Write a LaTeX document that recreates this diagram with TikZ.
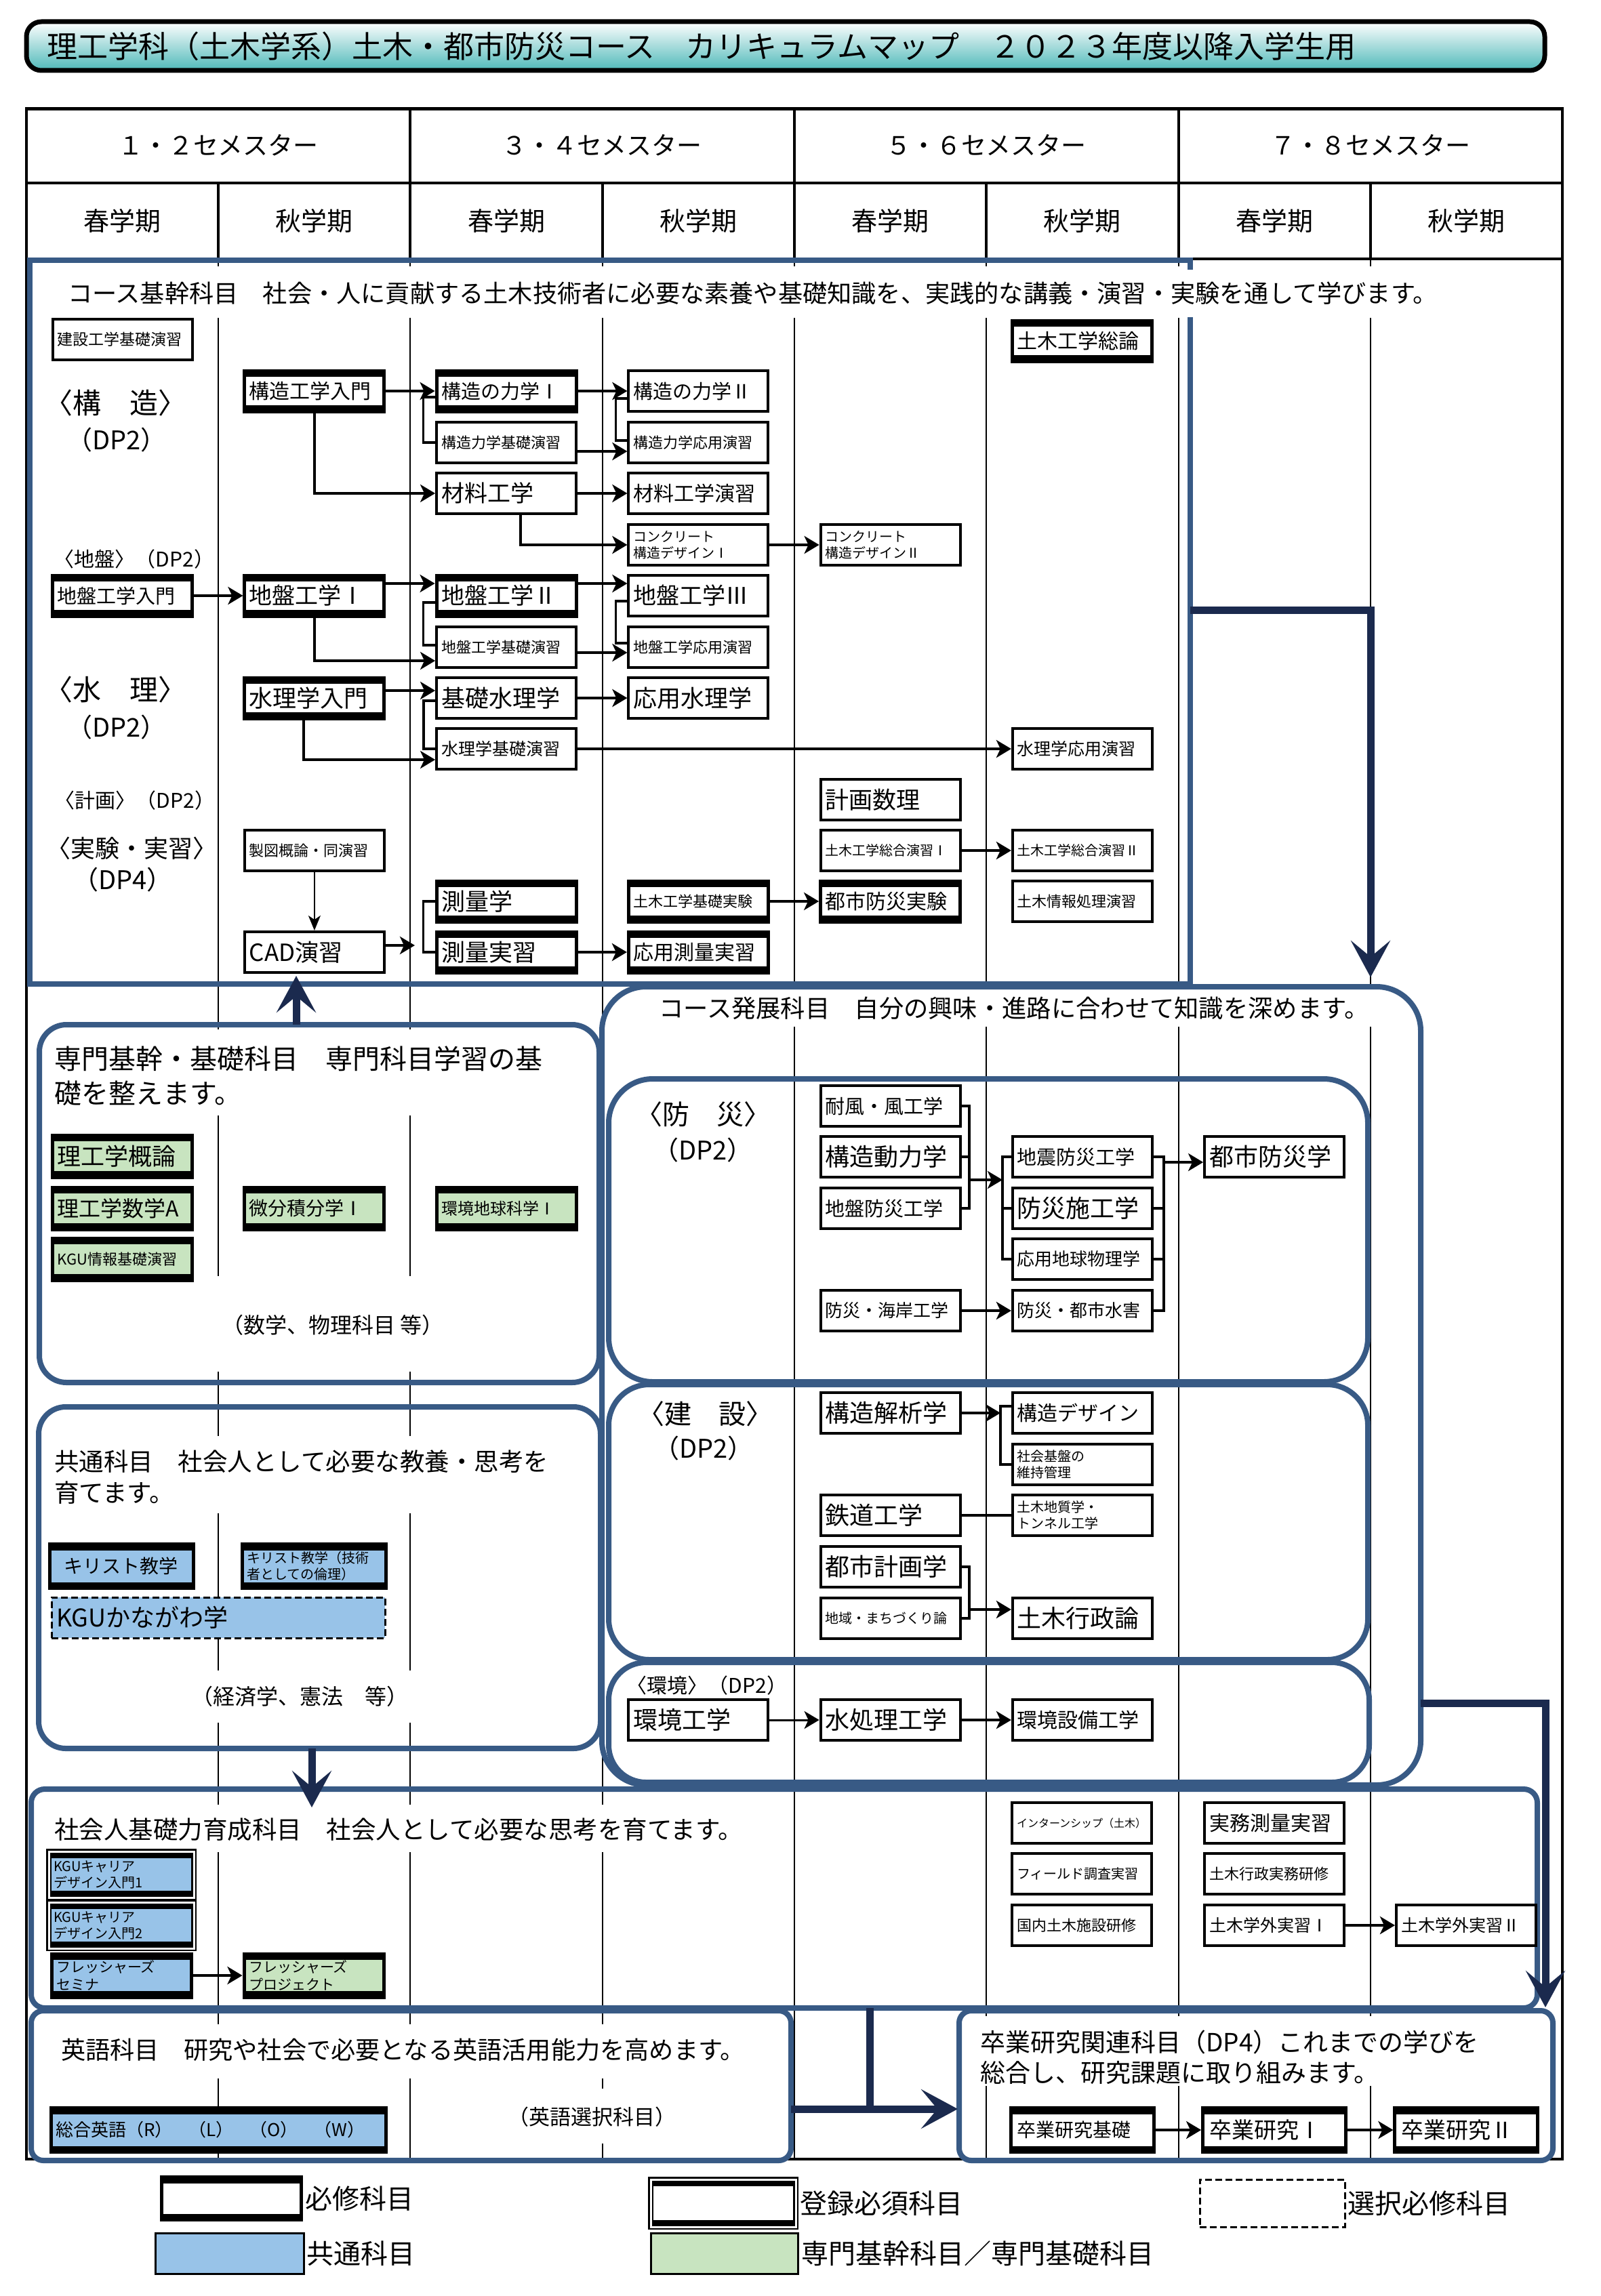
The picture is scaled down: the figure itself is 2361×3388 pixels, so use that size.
\documentclass[tikz,border=0pt]{standalone}
\usepackage{fontspec}
\setmainfont{Noto Sans CJK JP}
\usetikzlibrary{arrows.meta,calc}
\definecolor{secblue}{RGB}{56,90,133}
\definecolor{navyc}{RGB}{27,42,78}
\definecolor{kblue}{RGB}{152,195,232}
\definecolor{kgreen}{RGB}{200,228,192}
\definecolor{tealc}{RGB}{78,184,184}
\newcommand{\fsz}[1]{\fontsize{#1}{\dimexpr #1pt*6/5\relax}\selectfont}
\newcommand{\rmI}{\makebox[1em][c]{Ⅰ}}
\newcommand{\rmII}{\makebox[1em][c]{Ⅱ}}
\newcommand{\rmIII}{\makebox[1em][c]{Ⅲ}}
\begin{document}
\begin{tikzpicture}[x=1pt,y=-1pt,
  cb/.style={draw=black, line width=4pt, fill=white, minimum width=206pt, minimum height=60pt, text width=192pt, inner xsep=7pt, inner ysep=1pt, align=left},
  req/.style={cb, line width=5pt, path picture={
     \fill[black] (path picture bounding box.north west) rectangle ([yshift=-9pt]path picture bounding box.north east);
     \fill[black] ([yshift=9pt]path picture bounding box.south west) rectangle (path picture bounding box.south east);}},
  reg/.style={cb, line width=2.5pt, double=white, double distance=3pt, path picture={
     \fill[black] (path picture bounding box.north west) rectangle ([yshift=-10pt]path picture bounding box.north east);
     \fill[black] ([yshift=10pt]path picture bounding box.south west) rectangle (path picture bounding box.south east);}},
  opt/.style={cb, line width=3pt, dash pattern=on 10pt off 5pt},
  lab/.style={inner sep=0pt},
  coll/.style={line width=2.5pt, black},
  grid/.style={line width=3.5pt, black},
  secf/.style={draw=secblue, line width=8pt},
  arr/.style={line width=4.5pt, -{Stealth[length=22pt,width=26pt,inset=6pt]}},
  thinarr/.style={line width=2pt, -{Stealth[length=22pt,width=18pt,inset=6pt]}},
  brk/.style={line width=3.5pt},
  navyarr/.style={draw=navyc, line width=11pt, line join=miter, -{Stealth[length=54pt,width=58pt,inset=24pt]}},
  navyline/.style={draw=navyc, line width=11pt}
]
\useasboundingbox (0,0) rectangle (2361,3388);
\fill[white] (0,0) rectangle (2361,3388);

% ---------- column lines ----------
\foreach \x in {322,605} {
  \foreach \a/\b in {382/393,469/1519,1646/1883,2024/2119,2233/2465,2542/2663,2733/2987,3067/3186}
    {\draw[coll] (\x,\a) -- (\x,\b);}}
\foreach \a/\b in {382/393,469/2663,2733/2987,3067/3082,3163/3186}
    {\draw[coll] (889,\a) -- (889,\b);}
\foreach \a/\b in {382/393,469/1456,1515/3186}
    {\draw[coll] (1172,\a) -- (1172,\b);}
\foreach \x in {1455,1739,2022} {
  \foreach \a/\b in {382/393,469/1456,1515/2975,3078/3186}
    {\draw[coll] (\x,\a) -- (\x,\b);}}

% ---------- table grid ----------
\draw[grid] (39,160) rectangle (2305,3186);
\draw[line width=5pt] (39,160) -- (2305,160);
\draw[grid] (39,270) -- (2305,270);
\draw[grid] (39,382) -- (2305,382);
\foreach \x in {605,1172,1739} {\draw[grid] (\x,160) -- (\x,382);}
\foreach \x in {322,889,1455,2022} {\draw[grid] (\x,270) -- (\x,382);}

\node[lab, font=\fsz{37}] (h12) at (322,214) {１・２セメスター};
\node[lab, font=\fsz{37}] (h34) at (888,214) {３・４セメスター};
\node[lab, font=\fsz{37}] (h56) at (1455,214) {５・６セメスター};
\node[lab, font=\fsz{37}] (h78) at (2022,214) {７・８セメスター};
\node[lab, font=\fsz{38}] (s1) at (180.6,326) {春学期};
\node[lab, font=\fsz{38}] (s2) at (463.9,326) {秋学期};
\node[lab, font=\fsz{38}] (s3) at (747.1,326) {春学期};
\node[lab, font=\fsz{38}] (s4) at (1030.4,326) {秋学期};
\node[lab, font=\fsz{38}] (s5) at (1313.6,326) {春学期};
\node[lab, font=\fsz{38}] (s6) at (1596.9,326) {秋学期};
\node[lab, font=\fsz{38}] (s7) at (1880.1,326) {春学期};
\node[lab, font=\fsz{38}] (s8) at (2163.4,326) {秋学期};

% ---------- section frames ----------
\draw[secf] (44,384) rectangle (1756,1452);
\draw[secf, rounded corners=40pt] (58,1512) rectangle (884,2040);
\draw[secf, rounded corners=40pt] (57,2076) rectangle (886,2580);
\draw[secf, rounded corners=20pt] (46,2640) rectangle (2268,2963);
\draw[secf, rounded corners=18pt] (46,2967) rectangle (1167,3188);
\draw[secf, rounded corners=18pt] (1415,2967) rectangle (2291,3188);
\draw[secf, rounded corners=65pt] (888,1456) rectangle (2096,2634);
\draw[secf, rounded corners=65pt] (898,1592) rectangle (2018,2039);
\draw[secf, rounded corners=60pt] (898,2043) rectangle (2018,2449);
\draw[secf, rounded corners=55pt] (898,2453) rectangle (2020,2630);

% ---------- section 1 : course base ----------
\node[lab, anchor=west, fill=white, inner ysep=18pt, font=\fsz{36.2}] (t_kikan) at (100,433) {コース基幹科目　社会・人に貢献する土木技術者に必要な素養や基礎知識を、実践的な講義・演習・実験を通して学びます。};
\node[lab, font=\fsz{42}] (l_kozo) at (170,595) {〈構　造〉};
\node[lab, font=\fsz{38}] (l_kozodp) at (172,649) {（DP2）};
\node[lab, font=\fsz{30}] (l_jiban) at (198,825) {〈地盤〉（DP2）};
\node[lab, font=\fsz{42}] (l_sui) at (170,1018) {〈水　理〉};
\node[lab, font=\fsz{38}] (l_suidp) at (172,1073) {（DP2）};
\node[lab, font=\fsz{30}] (l_keikaku) at (199,1181) {〈計画〉（DP2）};
\node[lab, font=\fsz{36}] (l_jikken) at (194,1252) {〈実験・実習〉};
\node[lab, font=\fsz{38}] (l_jikkendp) at (181,1298) {（DP4）};

\node[cb, font=\fsz{23}] (kenkiso) at (180.6,501) {建設工学基礎演習};
\node[req, font=\fsz{30}] (sogoron) at (1596.9,503) {土木工学総論};
\node[req, font=\fsz{30}] (kozonyu) at (463.9,577) {構造工学入門};
\node[req, font=\fsz{29}] (rik1) at (747.1,577) {構造の力学\rmI};
\node[cb, font=\fsz{29}] (rik2) at (1030.4,577) {構造の力学\rmII};
\node[cb, font=\fsz{22}] (rikkiso) at (747.1,653) {構造力学基礎演習};
\node[cb, font=\fsz{22}] (rikoyo) at (1030.4,653) {構造力学応用演習};
\node[cb, font=\fsz{34}] (zairyo) at (747.1,728) {材料工学};
\node[cb, font=\fsz{30}] (zairyoen) at (1030.4,728) {材料工学演習};
\node[cb, font=\fsz{20}] (con1) at (1030.4,804) {コンクリート\\構造デザイン\rmI};
\node[cb, font=\fsz{20}] (con2) at (1313.6,804) {コンクリート\\構造デザイン\rmII};
\node[req, font=\fsz{29}] (jibnyu) at (180.6,879) {地盤工学入門};
\node[req, font=\fsz{34}] (jib1) at (463.9,879) {地盤工学\rmI};
\node[req, font=\fsz{34}] (jib2) at (747.1,879) {地盤工学\rmII};
\node[cb, font=\fsz{34}] (jib3) at (1030.4,879) {地盤工学\rmIII};
\node[cb, font=\fsz{22}] (jibkiso) at (747.1,955) {地盤工学基礎演習};
\node[cb, font=\fsz{22}] (jiboyo) at (1030.4,955) {地盤工学応用演習};
\node[req, font=\fsz{35}] (suinyu) at (463.9,1030) {水理学入門};
\node[cb, font=\fsz{35}] (kisosui) at (747.1,1030) {基礎水理学};
\node[cb, font=\fsz{35}] (oyosui) at (1030.4,1030) {応用水理学};
\node[cb, font=\fsz{25}] (suikiso) at (747.1,1105) {水理学基礎演習};
\node[cb, font=\fsz{25}] (suioyo) at (1596.9,1105) {水理学応用演習};
\node[cb, font=\fsz{35}] (keikaku) at (1313.6,1180) {計画数理};
\node[cb, font=\fsz{22}] (seizu) at (463.9,1255) {製図概論・同演習};
\node[cb, font=\fsz{20}] (sogo1) at (1313.6,1255) {土木工学総合演習\rmI};
\node[cb, font=\fsz{20}] (sogo2) at (1596.9,1255) {土木工学総合演習\rmII};
\node[req, font=\fsz{35}] (sokuryo) at (747.1,1330) {測量学};
\node[req, font=\fsz{22}] (kisojik) at (1030.4,1330) {土木工学基礎実験};
\node[req, font=\fsz{30}] (toshijik) at (1313.6,1330) {都市防災実験};
\node[cb, font=\fsz{22}] (joho) at (1596.9,1330) {土木情報処理演習};
\node[cb, font=\fsz{35}] (cad) at (463.9,1405) {CAD演習};
\node[req, font=\fsz{35}] (sokujis) at (747.1,1405) {測量実習};
\node[req, font=\fsz{30}] (oyosoku) at (1030.4,1405) {応用測量実習};

\draw[arr] (kozonyu.east) -- (rik1.west);
\draw[arr] (rik1.east) -- (rik2.west);
\draw[brk] ($(rik1.west)+(0,9)$) -- ++(-17,0) |- (rikkiso.west);
\draw[brk] ($(rik2.west)+(0,11)$) -- ++(-17,0) |- ($(rikoyo.west)+(0,-3)$);
\draw[arr] ($(rikkiso.east)+(0,13)$) -- ($(rikoyo.west)+(0,13)$);
\draw[arr] (kozonyu.south) |- (zairyo.west);
\draw[arr] (zairyo.east) -- (zairyoen.west);
\draw[arr] ($(zairyo.south)+(21,0)$) |- (con1.west);
\draw[arr] (con1.east) -- (con2.west);
\draw[arr] (jibnyu.east) -- (jib1.west);
\draw[arr] ($(jib1.east)+(0,-18)$) -- ($(jib2.west)+(0,-18)$);
\draw[arr] ($(jib2.east)+(0,-18)$) -- ($(jib3.west)+(0,-18)$);
\draw[brk] ($(jib2.west)+(0,10)$) -- ++(-17,0) |- ($(jibkiso.west)+(0,-3)$);
\draw[brk] ($(jib3.west)+(0,8)$) -- ++(-17,0) |- ($(jiboyo.west)+(0,-6)$);
\draw[arr] ($(jibkiso.east)+(0,8)$) -- ($(jiboyo.west)+(0,8)$);
\draw[arr] (jib1.south) |- ($(jibkiso.west)+(0,20)$);
\draw[arr] ($(suinyu.east)+(0,-11)$) -- ($(kisosui.west)+(0,-11)$);
\draw[arr] (kisosui.east) -- (oyosui.west);
\draw[brk] ($(kisosui.west)+(0,4)$) -- ++(-17,0) |- (suikiso.west);
\draw[arr] ($(suinyu.south)+(-16,0)$) |- ($(suikiso.west)+(0,16)$);
\draw[arr] (suikiso.east) -- (suioyo.west);
\draw[arr] (sogo1.east) -- (sogo2.west);
\draw[arr] (kisojik.east) -- (toshijik.west);
\draw[arr] (sokujis.east) -- (oyosoku.west);
\draw[thinarr] (seizu.south) -- (cad.north);
\draw[brk] (sokuryo.west) -- ++(-17,0) |- (sokujis.west);
\coordinate (cadtip) at (612,1395);
\draw[arr] (cad.east |- cadtip) -- (cadtip);

% ---------- senmon kikan / kiso ----------
\node[lab, anchor=west, font=\fsz{40}] (t_senmon1) at (80,1562) {専門基幹・基礎科目　専門科目学習の基};
\node[lab, anchor=west, font=\fsz{40}] (t_senmon2) at (80,1613) {礎を整えます。};
\node[req, fill=kgreen, font=\fsz{35}, minimum height=62pt] (rikogai) at (180.6,1706) {理工学概論};
\node[req, fill=kgreen, font=\fsz{32}, minimum height=62pt] (rikosu) at (180.6,1783) {理工学数学A};
\node[req, fill=kgreen, font=\fsz{22}, minimum height=62pt] (kguinfo) at (180.6,1858) {KGU情報基礎演習};
\node[req, fill=kgreen, font=\fsz{28}, minimum height=62pt] (bibun) at (463.9,1783) {微分積分学\rmI};
\node[req, fill=kgreen, font=\fsz{24}, minimum height=62pt] (kankyochi) at (747.1,1783) {環境地球科学\rmI};
\node[lab, font=\fsz{32}] (t_sugaku) at (491,1955) {（数学、物理科目 等）};

% ---------- kyotsu ----------
\node[lab, anchor=west, font=\fsz{36.5}] (t_kyotsu1) at (80,2157) {共通科目　社会人として必要な教養・思考を};
\node[lab, anchor=west, font=\fsz{36.5}] (t_kyotsu2) at (80,2203) {育てます。};
\node[req, fill=kblue, font=\fsz{28}, minimum width=212pt, text width=198pt, minimum height=65pt] (kirisuto) at (179,2311) {\hspace*{14pt}キリスト教学};
\node[req, fill=kblue, font=\fsz{20}, minimum width=212pt, text width=198pt, minimum height=65pt] (kirisuto2) at (463,2311) {キリスト教学（技術\\者としての倫理）};
\node[opt, fill=kblue, font=\fsz{36}, minimum width=492pt, text width=478pt] (kanagawa) at (322,2387) {KGUかながわ学};
\node[lab, font=\fsz{32}] (t_keizai) at (442,2503) {（経済学、憲法　等）};

% ---------- shakaijin ----------
\node[lab, anchor=west, font=\fsz{36.5}] (t_shakai) at (80,2700) {社会人基礎力育成科目　社会人として必要な思考を育てます。};
\node[reg, fill=kblue, font=\fsz{20}, minimum width=214pt, text width=200pt, minimum height=68pt] (career1) at (179,2766) {KGUキャリア\\デザイン入門1};
\node[reg, fill=kblue, font=\fsz{20}, minimum width=214pt, text width=200pt, minimum height=68pt] (career2) at (179,2841) {KGUキャリア\\デザイン入門2};
\node[req, fill=kblue, font=\fsz{21}, minimum height=64pt] (fresh1) at (179,2915) {フレッシャーズ\\セミナ};
\node[req, fill=kgreen, font=\fsz{21}, minimum height=64pt] (fresh2) at (463,2915) {フレッシャーズ\\プロジェクト};
\draw[arr] (fresh1.east) -- (fresh2.west);
\node[cb, font=\fsz{16}] (intern) at (1596,2690) {インターンシップ（土木）};
\node[cb, font=\fsz{20}] (field) at (1596,2765) {フィールド調査実習};
\node[cb, font=\fsz{22}] (kokunai) at (1596,2841) {国内土木施設研修};
\node[cb, font=\fsz{30}] (jitsumu) at (1880,2690) {実務測量実習};
\node[cb, font=\fsz{22}] (gyojitsu) at (1880,2765) {土木行政実務研修};
\node[cb, font=\fsz{25}] (gakugai1) at (1880,2841) {土木学外実習\rmI};
\node[cb, font=\fsz{25}] (gakugai2) at (2163,2841) {土木学外実習\rmII};
\draw[arr] (gakugai1.east) -- (gakugai2.west);

% ---------- english ----------
\node[lab, anchor=west, font=\fsz{36.2}] (t_eigo) at (90,3025) {英語科目　研究や社会で必要となる英語活用能力を高めます。};
\node[req, fill=kblue, font=\fsz{26}, minimum width=494pt, text width=480pt, minimum height=65pt] (sogoeigo) at (322,3143) {総合英語（R）\hspace{24pt}（L）\hspace{24pt}（O）\hspace{24pt}（W）};
\node[lab, font=\fsz{31}] (t_eigosen) at (873,3124) {（英語選択科目）};

% ---------- sotsugyo kenkyu ----------
\node[lab, anchor=west, font=\fsz{37}] (t_sotsu1) at (1446,3013) {卒業研究関連科目（DP4）これまでの学びを};
\node[lab, anchor=west, font=\fsz{37}] (t_sotsu2) at (1446,3058) {総合し、研究課題に取り組みます。};
\node[req, font=\fsz{28}, minimum width=211pt, minimum height=65pt] (sotsukiso) at (1596.9,3143) {卒業研究基礎};
\node[req, font=\fsz{33}, minimum width=211pt, minimum height=65pt] (sotsu1) at (1880.1,3143) {卒業研究\rmI};
\node[req, font=\fsz{33}, minimum width=211pt, minimum height=65pt] (sotsu2) at (2163.4,3143) {卒業研究\rmII};
\draw[arr] (sotsukiso.east) -- (sotsu1.west);
\draw[arr] (sotsu1.east) -- (sotsu2.west);

% ---------- course development ----------
\node[lab, anchor=west, font=\fsz{36.3}] (t_hatten) at (972,1488) {コース発展科目　自分の興味・進路に合わせて知識を深めます。};
\node[lab, font=\fsz{40}] (l_bosai) at (1037,1644) {〈防　災〉};
\node[lab, font=\fsz{38}] (l_bosaidp) at (1037,1697) {（DP2）};
\node[cb, font=\fsz{29}] (taifu) at (1313.6,1632) {耐風・風工学};
\node[cb, font=\fsz{36}] (kozodo) at (1313.6,1707) {構造動力学};
\node[cb, font=\fsz{29}] (jibanbo) at (1313.6,1783) {地盤防災工学};
\node[cb, font=\fsz{26}] (kaigan) at (1313.6,1934) {防災・海岸工学};
\node[cb, font=\fsz{29}] (jishin) at (1596.9,1707) {地震防災工学};
\node[cb, font=\fsz{36}] (bosaiseko) at (1596.9,1783) {防災施工学};
\node[cb, font=\fsz{26}] (oyochikyu) at (1596.9,1858) {応用地球物理学};
\node[cb, font=\fsz{26}] (suigai) at (1596.9,1934) {防災・都市水害};
\node[cb, font=\fsz{36}] (toshibosai) at (1880.1,1707) {都市防災学};

\coordinate (bj1) at (1430,1741);
\coordinate (bj2) at (1479,1741);
\draw[brk] (taifu.east) -- (taifu.east -| bj1) -- (jibanbo.east -| bj1) -- (jibanbo.east);
\draw[brk] (kozodo.east) -- (kozodo.east -| bj1);
\draw[arr] (bj1) -- (bj2);
\draw[brk] (jishin.west) -- (jishin.west -| bj2) -- (oyochikyu.west -| bj2) -- (oyochikyu.west);
\draw[brk] (bosaiseko.west) -- (bosaiseko.west -| bj2);
\draw[arr] (kaigan.east) -- (suigai.west);
\coordinate (bm) at (1717,1715);
\draw[brk] (jishin.east) -- (jishin.east -| bm) -- (suigai.east -| bm) -- (suigai.east);
\draw[brk] (bosaiseko.east) -- (bosaiseko.east -| bm);
\draw[brk] (oyochikyu.east) -- (oyochikyu.east -| bm);
\draw[arr] (bm) -- (bm -| toshibosai.west);

\node[lab, font=\fsz{40}] (l_kensetsu) at (1040,2086) {〈建　設〉};
\node[lab, font=\fsz{38}] (l_kensetsudp) at (1038,2137) {（DP2）};
\node[cb, font=\fsz{36}] (kaiseki) at (1313.6,2085) {構造解析学};
\node[cb, font=\fsz{30}] (kdesign) at (1596.9,2085) {構造デザイン};
\node[cb, font=\fsz{20}] (ishikanri) at (1596.9,2161) {社会基盤の\\維持管理};
\node[cb, font=\fsz{36}] (tetsudo) at (1313.6,2236) {鉄道工学};
\node[cb, font=\fsz{20}] (chishitsu) at (1596.9,2236) {土木地質学・\\トンネル工学};
\node[cb, font=\fsz{36}] (toshikei) at (1313.6,2312) {都市計画学};
\node[cb, font=\fsz{20}] (chiiki) at (1313.6,2388) {地域・まちづくり論};
\node[cb, font=\fsz{36}] (gyoseiron) at (1596.9,2388) {土木行政論};

\coordinate (bc) at (1476,2085);
\draw[arr] (kaiseki.east) -- (bc);
\draw[brk] ($(kdesign.west)+(0,-10)$) -- ++(-16,0) |- (ishikanri.west);
\draw[brk] (tetsudo.east) -- (chishitsu.west);
\coordinate (bd) at (1430,2375);
\draw[brk] (toshikei.east) -- (toshikei.east -| bd) -- (chiiki.east -| bd) -- (chiiki.east);
\draw[arr] (bd) -- (bd -| gyoseiron.west);

\node[lab, font=\fsz{30}] (l_kankyo) at (1043,2487) {〈環境〉（DP2）};
\node[cb, font=\fsz{36}] (kankyo) at (1030.4,2538) {環境工学};
\node[cb, font=\fsz{36}] (mizusho) at (1313.6,2538) {水処理工学};
\node[cb, font=\fsz{30}] (setsubi) at (1596.9,2538) {環境設備工学};
\draw[arr, line width=3pt] (kankyo.east) -- (mizusho.west);
\draw[arr] (mizusho.east) -- (setsubi.west);

% ---------- navy flow arrows ----------
\coordinate (u0) at (437,1512);
\coordinate (u1) at (437,1440);
\draw[navyarr] (u0) -- (u1);
\coordinate (r0) at (1756,900);
\coordinate (r1) at (2022,900);
\coordinate (r2) at (2022,1442);
\draw[navyarr] (r0) -- (r1) -- (r2);
\coordinate (d0) at (460,2580);
\coordinate (d1) at (460,2667);
\draw[navyarr] (d0) -- (d1);
\coordinate (e0) at (2096,2513);
\coordinate (e1) at (2280,2513);
\coordinate (e2) at (2280,2962);
\draw[navyarr] (e0) -- (e1) -- (e2);
\coordinate (f0) at (1283,2963);
\coordinate (f1) at (1283,3112);
\coordinate (g0) at (1167,3112);
\coordinate (g1) at (1413,3112);
\draw[navyline] (f0) -- (f1);
\draw[navyarr] (g0) -- (g1);

% ---------- title bar ----------
\node[draw=black, line width=7pt, rounded corners=22pt, top color=white, bottom color=tealc,
      minimum width=2240pt, minimum height=72pt, text width=2180pt, inner xsep=30pt, align=left,
      font=\fsz{45}] (title) at (1159,68) {理工学科（土木学系）土木・都市防災コース　カリキュラムマップ　２０２３年度以降入学生用};

% ---------- legend ----------
\node[req, text width=192pt, minimum height=63pt] (lg1) at (341,3244) {};
\node[lab, anchor=west, font=\fsz{40}] (lg1t) at (450,3244) {必修科目};
\node[reg, minimum height=70pt, minimum width=214pt, text width=200pt] (lg2) at (1067,3251) {};
\node[lab, anchor=west, font=\fsz{40}] (lg2t) at (1180,3251) {登録必須科目};
\node[opt, minimum height=70pt, minimum width=214pt, text width=200pt] (lg3) at (1877,3251) {};
\node[lab, anchor=west, font=\fsz{40}] (lg3t) at (1988,3251) {選択必修科目};
\node[cb, line width=3pt, fill=kblue, minimum width=219pt, text width=205pt, minimum height=60pt] (lg4) at (339,3325) {};
\node[lab, anchor=west, font=\fsz{40}] (lg4t) at (452,3325) {共通科目};
\node[cb, line width=3pt, fill=kgreen, minimum width=217pt, text width=203pt, minimum height=60pt] (lg5) at (1069,3325) {};
\node[lab, anchor=west, font=\fsz{40}] (lg5t) at (1182,3325) {専門基幹科目／専門基礎科目};
\end{tikzpicture}
\end{document}
